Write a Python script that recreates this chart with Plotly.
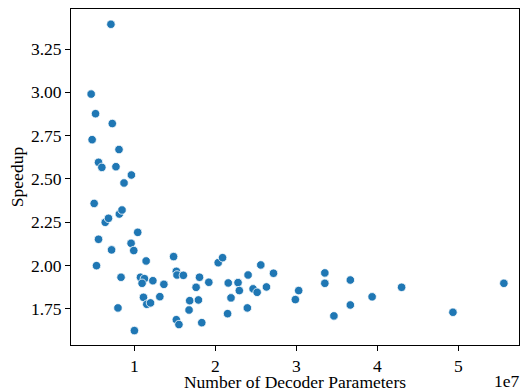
import plotly.graph_objects as go

# Number of decoder parameters (raw counts)
params = [
    4.66e6, 5.20e6, 7.27e6, 4.78e6, 8.10e6, 5.57e6, 5.98e6, 7.72e6, 9.63e6, 8.72e6,
    7.10e6, 5.03e6, 6.40e6, 6.80e6, 8.14e6, 8.47e6, 5.57e6, 7.18e6, 10.41e6, 9.59e6,
    9.92e6, 5.32e6, 11.45e6, 14.84e6, 8.35e6, 10.75e6, 11.24e6, 10.95e6, 12.28e6, 13.64e6,
    15.18e6, 15.26e6, 11.12e6, 13.14e6, 11.53e6, 11.99e6, 7.97e6, 10.00e6, 15.18e6, 15.50e6,
    16.05e6, 20.35e6, 20.89e6, 25.61e6, 27.18e6, 18.04e6, 19.19e6, 17.62e6, 21.59e6, 22.80e6,
    24.04e6, 22.96e6, 24.66e6, 25.16e6, 26.31e6, 21.93e6, 16.83e6, 17.91e6, 16.75e6, 23.95e6,
    21.51e6, 18.32e6, 30.29e6, 29.88e6, 33.52e6, 33.52e6, 36.67e6, 36.67e6, 34.64e6, 39.36e6,
    43.00e6, 49.34e6, 55.63e6,
]
speedup = [
    2.990, 2.877, 2.820, 2.727, 2.670, 2.596, 2.567, 2.571, 2.523, 2.477,
    3.393, 2.359, 2.250, 2.273, 2.298, 2.321, 2.152, 2.091, 2.192, 2.129,
    2.087, 2.000, 2.027, 2.052, 1.933, 1.933, 1.925, 1.898, 1.913, 1.892,
    1.967, 1.946, 1.817, 1.821, 1.777, 1.785, 1.756, 1.625, 1.688, 1.660,
    1.944, 2.017, 2.046, 2.004, 1.956, 1.933, 1.904, 1.875, 1.900, 1.902,
    1.946, 1.856, 1.866, 1.846, 1.877, 1.814, 1.798, 1.802, 1.744, 1.756,
    1.723, 1.671, 1.856, 1.804, 1.958, 1.898, 1.917, 1.773, 1.710, 1.820,
    1.875, 1.731, 1.898,
]

x_tickvals = [1e7, 2e7, 3e7, 4e7, 5e7]
x_ticktext = ["1", "2", "3", "4", "5"]
y_tickvals = [1.75, 2.00, 2.25, 2.50, 2.75, 3.00, 3.25]
y_ticktext = ["1.75", "2.00", "2.25", "2.50", "2.75", "3.00", "3.25"]

FONT = "Liberation Serif, Times New Roman, serif"
FS = 17.5

fig = go.Figure(
    go.Scatter(
        x=params, y=speedup, mode="markers",
        marker=dict(color="#1f77b4", size=8.5, line=dict(color="white", width=0.8)),
        showlegend=False, hoverinfo="skip",
    )
)

axis_common = dict(
    showgrid=False, zeroline=False, showline=True, linecolor="black", linewidth=1,
    mirror=True, ticks="outside", ticklen=5, tickwidth=1, tickcolor="black",
    tickfont=dict(family=FONT, size=FS, color="black"), automargin=False,
)

fig.update_layout(
    width=522, height=392,
    margin=dict(l=71, r=3, t=9, b=47),
    paper_bgcolor="white", plot_bgcolor="white",
    font=dict(family=FONT, size=FS, color="black"),
    xaxis=dict(
        range=[0.217e7, 5.75e7], tickvals=x_tickvals, ticktext=x_ticktext,
        title=dict(text="Number of Decoder Parameters", font=dict(family=FONT, size=FS), standoff=1),
        **axis_common,
    ),
    yaxis=dict(
        range=[1.542, 3.481], tickvals=y_tickvals, ticktext=y_ticktext,
        title=dict(text="Speedup", font=dict(family=FONT, size=FS), standoff=2),
        **axis_common,
    ),
    annotations=[
        dict(text="1e7", xref="paper", yref="paper", x=1.0, y=-0.107,
             xanchor="right", yanchor="middle", xshift=3, showarrow=False,
             font=dict(family=FONT, size=FS, color="black")),
    ],
)

fig.write_html(
    "out.html",
    config={"displayModeBar": False},
    post_script="document.body.style.margin='0';document.body.style.padding='0';",
)
